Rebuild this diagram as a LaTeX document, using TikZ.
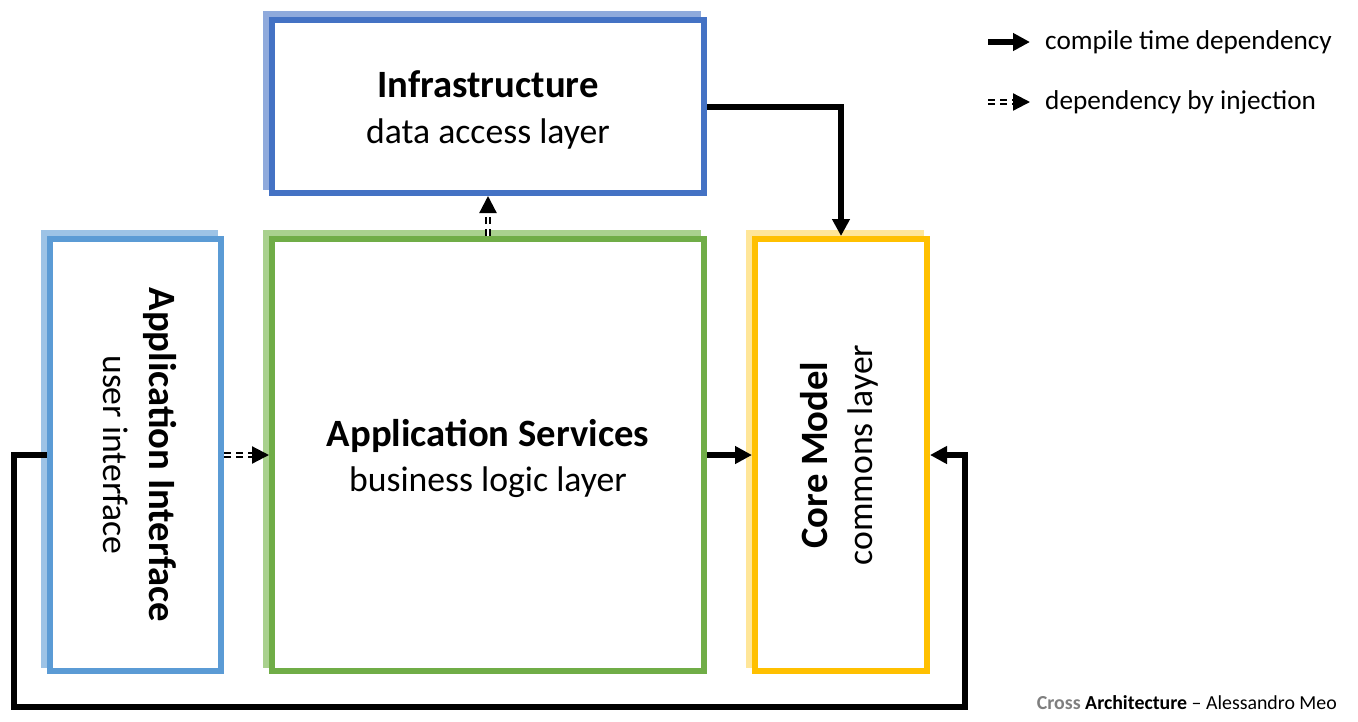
\documentclass[tikz,border=0pt]{standalone}
\usepackage{fontspec}
\setmainfont{Carlito}
\usepackage{graphicx}
\usepackage{xcolor}
\usetikzlibrary{arrows.meta, positioning}

\definecolor{infblue}{HTML}{4472C4}
\definecolor{infshade}{HTML}{8FAADC}
\definecolor{uiblue}{HTML}{5B9BD5}
\definecolor{uishade}{HTML}{9DC3E6}
\definecolor{svcgreen}{HTML}{70AD47}
\definecolor{svcshade}{HTML}{A9D18E}
\definecolor{coreyellow}{HTML}{FFC000}
\definecolor{coreshade}{HTML}{FFE699}
\definecolor{creditgray}{HTML}{7F7F7F}

\newcommand{\layertitle}[1]{{\fontsize{22}{26}\selectfont\bfseries #1}}
\newcommand{\layertext}[2]{\raisebox{-0.1cm}[\height][\depth]{\begin{tabular}{c}\layertitle{#1}\\ #2\end{tabular}}}

\begin{document}
\begin{tikzpicture}[node distance=7cm,on grid,
    ghost/.style={preaction={draw=#1,transform canvas={shift={(-0.12cm,0.12cm)}}}}]
    \tikzstyle{layer}=[shape=rectangle,line width=0.12cm,fill=white,align=center,font=\fontsize{20.3}{26}\selectfont]
    \tikzstyle{dep}=[draw,line width=0.12cm,-{Triangle[length=0.34cm,width=0.34cm]}]
    \tikzstyle{inj}=[draw,line width=0.045cm,double=white,double distance=0.045cm,dash pattern=on 0.14cm off 0.1cm,-{Triangle[length=0.34cm,width=0.34cm]}]
    \tikzstyle{legend}=[anchor=west,font=\fontsize{15.5}{19}\selectfont]

    \useasboundingbox (0,0) rectangle (27.16,-14.42);

    \node[layer, draw=svcgreen, ghost=svcshade, minimum width=8.64cm, minimum height=8.64cm] (svc) at (9.76,-9.10) {\layertext{Application Services}{business logic layer}};
    \node[layer, draw=infblue, ghost=infshade, minimum width=8.64cm, minimum height=3.46cm, above=6.97cm of svc] (inf) {\layertext{Infrastructure}{data access layer}};
    \node[layer, draw=uiblue, ghost=uishade, minimum width=3.42cm, minimum height=8.64cm, left=7.05cm of svc] (ai) {\rotatebox{-90}{\begin{tabular}{c}\layertitle{Application Interface}\\ user interface\end{tabular}}};
    \node[layer, draw=coreyellow, ghost=coreshade, minimum width=3.44cm, minimum height=8.64cm, right=7.06cm of svc] (core) {\rotatebox{90}{\begin{tabular}{c}\layertitle{Core Model}\\ commons layer\end{tabular}}};

    \coordinate (lp) at (0.28,-14.14);
    \coordinate (rp) at (19.3,-14.14);

    \path[dep] (inf.east) -| (core.north);
    \path[dep] (svc.east) -- (core.west);
    \path[dep] (ai.west) -| (lp) -- (rp) |- (core.east);
    \path[inj] (ai.east) -- (svc.west);
    \path[inj] (svc.north) -- (inf.south);

    % legend
    \coordinate (cta) at (19.76,-0.84);
    \coordinate (ctb) at (20.6,-0.84);
    \coordinate (dia) at (19.76,-2.04);
    \coordinate (dib) at (20.6,-2.04);
    \path[dep] (cta) -- (ctb);
    \path[inj] (dia) -- (dib);
    \node[legend] (ctl) at (20.78,-0.84) {compile time dependency};
    \node[legend] (dil) at (20.78,-2.04) {dependency by injection};

    \node[anchor=base east,font=\fontsize{11.3}{13}\selectfont] (credit) at (26.86,-14.18) {\textcolor{creditgray}{\bfseries Cross} \textbf{Architecture} – Alessandro Meo};
\end{tikzpicture}
\end{document}
